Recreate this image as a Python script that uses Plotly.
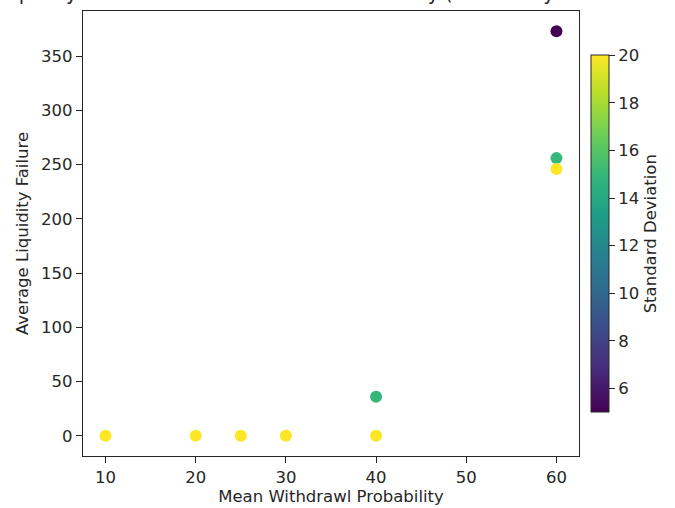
import plotly.graph_objects as go

mean_withdrawal = [10, 20, 25, 30, 40, 40, 60, 60, 60]
avg_liquidity_failure = [0, 0, 0, 0, 36, 0, 373, 256, 246]
std_dev = [20, 20, 20, 20, 15, 20, 5, 15, 20]

W, H = 675, 508
L, R, T, B = 83, 579, 10.5, 456
font = dict(family="DejaVu Sans", size=16.5, color="#262626")

fig = go.Figure()
fig.add_trace(go.Scatter(
    x=mean_withdrawal, y=avg_liquidity_failure, mode="markers",
    marker=dict(size=12, color=std_dev, colorscale="Viridis", cmin=5, cmax=20,
                line=dict(width=0),
                colorbar=dict(
                    title=dict(text="Standard Deviation", side="right", font=font),
                    tickvals=[6, 8, 10, 12, 14, 16, 18, 20],
                    ticks="outside", ticklen=6, tickcolor="#262626",
                    tickfont=font, thickness=18, thicknessmode="pixels",
                    len=357, lenmode="pixels", x=(591 - L) / (R - L), xanchor="left",
                    y=(B - 233.5) / (B - T), yanchor="middle",
                    outlinewidth=1, outlinecolor="#262626", xpad=0, ypad=0)),
    showlegend=False))

axis_common = dict(showgrid=False, zeroline=False, showline=True, linecolor="#262626",
                   linewidth=1.2, mirror=True, ticks="outside", ticklen=6,
                   tickcolor="#262626", tickfont=font)
fig.update_xaxes(range=[7.5, 62.5], tickvals=[10, 20, 30, 40, 50, 60],
                 title=dict(text="Mean Withdrawl Probability", font=font, standoff=4),
                 **axis_common)
fig.update_yaxes(range=[-18.65, 391.65], tickvals=[0, 50, 100, 150, 200, 250, 300, 350],
                 title=dict(text="Average Liquidity Failure", font=font, standoff=8),
                 **axis_common)

fig.add_annotation(text="Average Liquidity Failure vs Mean Withdrawl Probability (Colored by Standard Deviation)",
                   xref="paper", yref="paper", x=0.5, y=1.0, yshift=T - 6,
                   yanchor="bottom", showarrow=False,
                   font=dict(family="DejaVu Sans", size=19, color="#262626"))

fig.update_layout(width=W, height=H,
                  margin=dict(l=L, r=W - R, t=T, b=H - B, autoexpand=False),
                  plot_bgcolor="white", paper_bgcolor="white", font=font)
fig.write_html("out.html", config={"displayModeBar": False},
               post_script="document.body.style.margin='0';document.body.style.overflow='hidden';")
